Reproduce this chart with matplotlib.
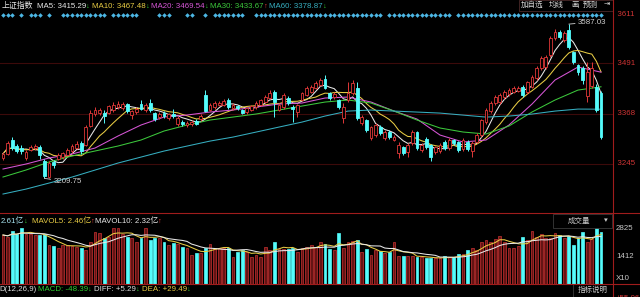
"""Shanghai composite daily K-line with MA, volume and MACD header (dark terminal style)."""

import numpy as np
import pandas as pd
import matplotlib

matplotlib.use("Agg")
import matplotlib.pyplot as plt
from matplotlib.patches import Rectangle
from matplotlib.lines import Line2D

plt.rcParams["font.family"] = ["Liberation Sans", "Noto Sans CJK SC", "DejaVu Sans"]

# ---- data --------------------------------------------------------------------
opens = [3259, 3270, 3303, 3290, 3284, 3259, 3279, 3283, 3286, 3252,
         3214, 3249, 3258, 3261, 3268, 3276, 3285, 3296, 3292, 3338,
         3368, 3370, 3370, 3370, 3376, 3384, 3382, 3391, 3365, 3372,
         3392, 3377, 3394, 3370, 3360, 3370, 3358, 3368, 3343, 3348,
         3340, 3342, 3350, 3354, 3413, 3378, 3384, 3390, 3389, 3401,
         3382, 3386, 3377, 3372, 3377, 3384, 3389, 3396, 3406, 3421,
         3378, 3384, 3406, 3384, 3372, 3401, 3413, 3421, 3431, 3438,
         3452, 3418, 3408, 3401, 3357, 3401, 3418, 3431, 3345, 3352,
         3308, 3316, 3335, 3308, 3323, 3304, 3272, 3286, 3274, 3296,
         3323, 3279, 3306, 3291, 3274, 3276, 3299, 3284, 3303, 3299,
         3281, 3299, 3276, 3299, 3316, 3347, 3374, 3394, 3396, 3409,
         3416, 3421, 3424, 3433, 3421, 3433, 3455, 3480, 3482, 3511,
         3553, 3568, 3548, 3572, 3519, 3487, 3480, 3410, 3435, 3433,
         3418]
closes = [3270, 3296, 3284, 3276, 3277, 3274, 3286, 3288, 3266, 3216,
          3248, 3243, 3268, 3271, 3280, 3288, 3293, 3276, 3336, 3370,
          3377, 3378, 3362, 3386, 3390, 3392, 3392, 3375, 3374, 3380,
          3380, 3390, 3378, 3356, 3368, 3362, 3366, 3362, 3358, 3342,
          3346, 3348, 3343, 3362, 3375, 3389, 3394, 3394, 3398, 3384,
          3389, 3382, 3370, 3381, 3386, 3394, 3401, 3409, 3418, 3396,
          3389, 3413, 3394, 3380, 3389, 3418, 3431, 3433, 3443, 3450,
          3431, 3406, 3416, 3384, 3384, 3418, 3443, 3357, 3360, 3328,
          3335, 3340, 3320, 3323, 3311, 3311, 3291, 3272, 3291, 3323,
          3284, 3291, 3286, 3262, 3286, 3291, 3284, 3303, 3296, 3279,
          3303, 3281, 3296, 3316, 3352, 3377, 3394, 3409, 3413, 3421,
          3426, 3431, 3431, 3413, 3445, 3457, 3480, 3504, 3506, 3553,
          3568, 3555, 3565, 3531, 3494, 3470, 3450, 3470, 3480, 3377,
          3311]
highs = [3275, 3300, 3310, 3293, 3291, 3278, 3292, 3293, 3291, 3258,
         3252, 3254, 3271, 3275, 3284, 3293, 3302, 3301, 3340, 3378,
         3384, 3383, 3378, 3390, 3396, 3398, 3397, 3395, 3378, 3385,
         3402, 3394, 3403, 3373, 3372, 3374, 3370, 3380, 3362, 3352,
         3350, 3352, 3354, 3366, 3425, 3393, 3398, 3398, 3405, 3406,
         3395, 3390, 3380, 3385, 3390, 3398, 3405, 3413, 3425, 3426,
         3393, 3418, 3410, 3390, 3392, 3422, 3435, 3438, 3447, 3455,
         3462, 3422, 3420, 3404, 3394, 3446, 3450, 3445, 3364, 3355,
         3338, 3344, 3340, 3328, 3328, 3316, 3298, 3290, 3296, 3328,
         3326, 3296, 3310, 3294, 3290, 3296, 3303, 3308, 3306, 3302,
         3308, 3304, 3300, 3320, 3356, 3382, 3398, 3413, 3418, 3425,
         3430, 3435, 3436, 3438, 3449, 3462, 3484, 3508, 3512, 3558,
         3575, 3572, 3570, 3587.03, 3522, 3490, 3484, 3494, 3494, 3440,
         3423]
lows = [3255, 3268, 3280, 3272, 3270, 3255, 3276, 3280, 3258, 3209.75,
        3211, 3235, 3255, 3258, 3265, 3272, 3282, 3270, 3288, 3335,
        3362, 3365, 3345, 3366, 3372, 3380, 3378, 3370, 3356, 3368,
        3376, 3372, 3372, 3350, 3355, 3357, 3352, 3358, 3338, 3338,
        3336, 3338, 3340, 3350, 3372, 3374, 3380, 3387, 3386, 3380,
        3378, 3378, 3366, 3368, 3374, 3380, 3386, 3393, 3403, 3360,
        3374, 3380, 3390, 3347, 3360, 3398, 3410, 3418, 3428, 3435,
        3428, 3401, 3404, 3380, 3345, 3396, 3414, 3352, 3340, 3323,
        3303, 3312, 3316, 3303, 3306, 3300, 3259, 3267, 3262, 3292,
        3278, 3274, 3282, 3252, 3270, 3272, 3279, 3280, 3291, 3274,
        3276, 3276, 3262, 3296, 3312, 3342, 3370, 3390, 3392, 3404,
        3412, 3418, 3420, 3409, 3416, 3430, 3450, 3476, 3478, 3506,
        3548, 3550, 3543, 3526, 3490, 3462, 3440, 3396, 3430, 3372,
        3306]
volumes = [2475, 2389, 2692, 2510, 2813, 2510, 2510, 2475, 2475, 2510,
           1970, 1934, 1833, 1970, 1970, 1934, 1884, 1833, 1717, 2136,
           2641, 2560, 2308, 2389, 2813, 2813, 2510, 2389, 2308, 2136,
           2308, 2813, 2222, 2308, 2308, 2136, 1970, 2055, 2005, 1884,
           1803, 1465, 1550, 1550, 1803, 2005, 1803, 1803, 1803, 1803,
           1379, 1631, 1717, 1631, 1379, 1465, 1379, 1884, 1717, 2136,
           1768, 1768, 1752, 1803, 1631, 1803, 1884, 1970, 1884, 2136,
           2005, 1768, 1717, 2560, 1833, 2136, 2170, 2222, 1631, 1768,
           1465, 1717, 1670, 1550, 1600, 2136, 1430, 1415, 1415, 1415,
           1345, 1379, 1295, 1330, 1295, 1295, 1430, 1362, 1345, 1500,
           1500, 1717, 1833, 1717, 2136, 2222, 2136, 2255, 2420, 2136,
           1833, 1833, 1934, 2389, 2222, 2675, 2389, 2510, 2340, 2308,
           2600, 2475, 2308, 2420, 1970, 2308, 2641, 2136, 2255, 2813,
           2641]

# slow averages every 5th session
ma_step = 5
ma20_read = [3232.6, 3244.8, 3259.5, 3269.3, 3283.9, 3313.3, 3340.2, 3359.7, 3364.6,
             3372.0, 3376.9, 3384.2, 3391.5, 3394.0, 3406.2, 3408.6, 3396.4, 3374.4,
             3354.8, 3315.7, 3298.6, 3303.5, 3340.2, 3391.5, 3450.2, 3482.0, 3469.5]
ma30_read = [3213.0, 3230.1, 3249.7, 3264.4, 3276.6, 3288.8, 3303.5, 3325.5, 3340.2,
             3352.4, 3359.7, 3367.1, 3376.9, 3386.6, 3396.4, 3401.3, 3394.0, 3374.4,
             3352.4, 3332.9, 3323.1, 3318.2, 3337.8, 3372.0, 3401.3, 3425.7, 3433.7]
ma60_read = [3171.4, 3183.5, 3198.2, 3212.9, 3230.0, 3247.2, 3261.8, 3276.5, 3288.7,
             3300.9, 3310.7, 3322.9, 3335.2, 3347.4, 3362.1, 3374.3, 3376.8, 3374.3,
             3371.9, 3369.4, 3364.5, 3359.6, 3362.1, 3367.0, 3374.3, 3379.2, 3378.9]

# sessions carrying the blue diamond signal (first, last index)
signal_runs = [(0, 2), (4, 4), (6, 8), (10, 10), (13, 22), (24, 29), (34, 36),
               (40, 41), (44, 44), (46, 52), (55, 82), (84, 97), (99, 130)]

price_ticks = [3245, 3368, 3491, 3611]

# ---- layout (pixels of the 640x297 canvas) ----------------------------------
W, H = 640, 297
AXIS_X = 613
X0, DX = 3.0, 4.6          # first candle centre and spacing in px
RED = "#e03838"
CYAN = "#54fcfc"
GRID = "#3c0a0a"
FRAME = "#a01c1c"
FS = 5.7

C_MA5, C_MA10, C_MA20, C_MA30, C_MA60 = "#e8e8e8", "#e8cc44", "#d656d6", "#3cc83c", "#36aec0"


def fx(x):
    return x / W


def fy(y):
    return 1 - y / H


fig = plt.figure(figsize=(6.4, 2.97), dpi=100, facecolor="black")
ax = fig.add_axes([0, fy(213), fx(AXIS_X), 213 / H])
vax = fig.add_axes([0, fy(284), fx(AXIS_X), 71 / H])
for a in (ax, vax):
    a.set_facecolor("black")
    a.axis("off")
    a.set_xlim(-X0 / DX, (AXIS_X - X0) / DX)
ax.set_ylim(3125, 3646)
vax.set_ylim(0, 3585)

n = len(closes)
x = np.arange(n)
o = np.array(opens, float)
c = np.array(closes, float)
hi = np.array(highs, float)
lo = np.array(lows, float)
up = c >= o
col = np.where(up, RED, CYAN)

for p in price_ticks[:3]:
    ax.axhline(p, color=GRID, lw=0.8, zorder=0)

# moving averages
close_s = pd.Series(c)
ax.plot(x, close_s.rolling(5, min_periods=1).mean(), color=C_MA5, lw=0.75, zorder=2)
ax.plot(x, close_s.rolling(10, min_periods=1).mean(), color=C_MA10, lw=0.75, zorder=2)
xm = np.arange(0, n, ma_step)
ax.plot(xm, ma20_read, color=C_MA20, lw=0.75, zorder=2)
ax.plot(xm, ma30_read, color=C_MA30, lw=0.75, zorder=2)
ax.plot(xm, ma60_read, color=C_MA60, lw=0.75, zorder=2)

# candles: red hollow, cyan filled
ax.vlines(x, lo, hi, colors=col, lw=0.7, zorder=3)
body = np.maximum(np.abs(c - o), 1.0)
ax.bar(x, body, bottom=np.minimum(o, c), width=0.62,
       color=np.where(up, "black", CYAN), edgecolor=col, linewidth=0.6, zorder=4)

# extreme price labels
imax, imin = int(np.argmax(hi)), int(np.argmin(lo))
ax.annotate(f"{hi[imax]:.2f}", xy=(imax, hi[imax]), xytext=(6.5, 1.5), textcoords="offset points",
            color="#d0d0d0", fontsize=FS, va="center", zorder=6,
            arrowprops=dict(arrowstyle="-", color="#d0d0d0", lw=0.6, shrinkA=0, shrinkB=0))
ax.annotate(f"{lo[imin]:.2f}", xy=(imin, lo[imin]), xytext=(6.5, -2.5), textcoords="offset points",
            color="#d0d0d0", fontsize=FS, va="center", zorder=6,
            arrowprops=dict(arrowstyle="-", color="#d0d0d0", lw=0.6, shrinkA=0, shrinkB=0))

# signal diamonds row
sig = np.concatenate([np.arange(a, b + 1) for a, b in signal_runs])
ax.scatter(sig, np.full(len(sig), 1 - 15 / 213), transform=ax.get_xaxis_transform(),
           marker="D", s=5.5, color="#4cb6e4", linewidths=0, zorder=5, clip_on=False)

# volume panel
v = np.array(volumes, float)
vax.bar(x, v, width=0.62, color=np.where(up, "#641414", CYAN),
        edgecolor=np.where(up, "#c83232", CYAN), linewidth=0.5)
vol_s = pd.Series(v)
vax.plot(x, vol_s.rolling(5, min_periods=1).mean(), color=C_MA10, lw=0.75)
vax.plot(x, vol_s.rolling(10, min_periods=1).mean(), color=C_MA5, lw=0.75)

# frame lines
for yy in (213, 283.5):
    fig.add_artist(Line2D([0, 1], [fy(yy), fy(yy)], color=FRAME, lw=0.8))
fig.add_artist(Line2D([fx(AXIS_X), fx(AXIS_X)], [0, 1], color=FRAME, lw=0.8))


def label(xp, yp, s, color, arrow=None, acolor=None, **kw):
    t = fig.text(fx(xp), fy(yp), s, color=color, fontsize=FS, va="center", ha="left", **kw)
    if arrow:
        ax.annotate(arrow, xy=(1, 0.5), xycoords=t, xytext=(0.1, 0), textcoords="offset points",
                    color=acolor, fontsize=FS - 0.3, va="center", ha="left", annotation_clip=False)
    return t


UPC, DNC = "#ff4040", "#30d030"

# header
label(2, 6, "上证指数", "#e8e8e8")
label(37, 6, "MA5: 3415.29", C_MA5, "↓", DNC)
label(92, 6, "MA10: 3467.48", C_MA10, "↓", DNC)
label(151, 6, "MA20: 3469.54", C_MA20, "↓", DNC)
label(210, 6, "MA30: 3433.67", C_MA30, "↑", UPC)
label(269, 6, "MA60: 3378.87", C_MA60, "↓", DNC)

# top-right buttons
fig.add_artist(Rectangle((fx(519), fy(11)), fx(94), 11 / H, fill=False, edgecolor="#4a2828", lw=0.6))
for cx, s in [(532, "加自选"), (556, "均线"), (575, "画"), (590, "预测"), (607, "⇥")]:
    fig.text(fx(cx), fy(5.5), s, color="#d8d8d8", fontsize=FS - 0.3, ha="center", va="center")

# right price axis labels
for p in price_ticks:
    ax.text(1.0, p, f"  {p}", transform=ax.get_yaxis_transform(), color="#d03434",
            fontsize=FS, va="center", ha="left", clip_on=False)

# volume header
label(1, 221, "2.61亿", "#a8e4f0", "↓", DNC)
label(32, 221, "MAVOL5: 2.46亿", C_MA10, "↑", UPC)
label(95, 221, "MAVOL10: 2.32亿", C_MA5, "↑", UPC)

fig.add_artist(Rectangle((fx(553), fy(228)), fx(59), 14 / H, facecolor="black",
                         edgecolor="#3a3a3a", lw=0.6))
fig.text(fx(579), fy(221), "成交量", color="#c8c8c8", fontsize=FS - 0.3, ha="center", va="center")
fig.text(fx(606), fy(221), "▾", color="#c8c8c8", fontsize=FS - 0.3, ha="center", va="center")
for yp, s in [(228, "2825"), (256, "1412"), (278, "X10")]:
    fig.text(fx(616), fy(yp), s, color="#c8c8c8", fontsize=FS, va="center")

# MACD header
label(-1, 289.5, "D(12,26,9)", "#e0e0e0")
label(38, 289.5, "MACD: -48.39", DNC, "↓", DNC)
label(94, 289.5, "DIFF: +5.29", "#e0e0e0", "↓", DNC)
label(142, 289.5, "DEA: +29.49", C_MA10, "↓", DNC)

fig.add_artist(Rectangle((fx(573), 0), fx(40), 13 / H, facecolor="black",
                         edgecolor="#3a3a3a", lw=0.6))
fig.text(fx(593), fy(290), "指标说明", color="#c8c8c8", fontsize=FS - 0.3, ha="center", va="center")
fig.text(fx(616), fy(299), "+55.06", color="#d03434", fontsize=FS, va="center")

fig.savefig("out.png", dpi=100, facecolor="black")
